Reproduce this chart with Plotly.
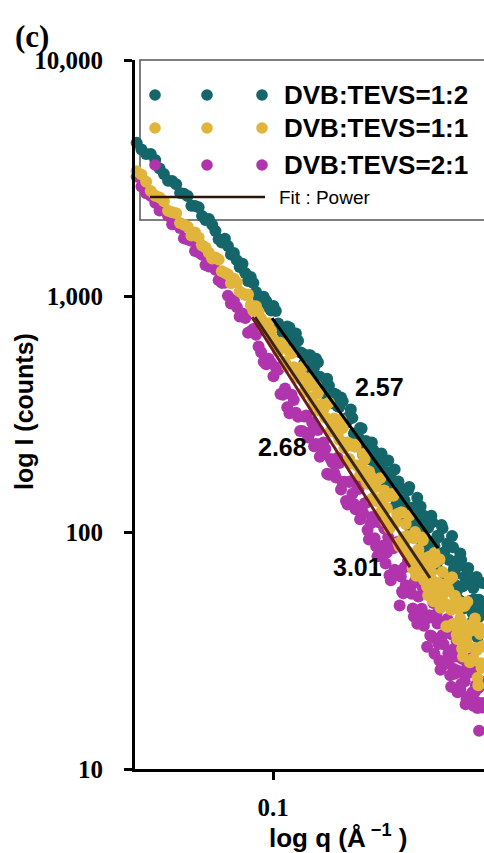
import plotly.graph_objects as go

# ---------------- data ----------------
q = [0.049, 0.0515, 0.054, 0.0565, 0.059, 0.0615, 0.064, 0.0665, 0.069, 0.0715,
     0.074, 0.0765, 0.079, 0.0815, 0.084, 0.0865, 0.089, 0.0915, 0.094, 0.0965,
     0.099, 0.1015, 0.104, 0.1065, 0.109, 0.1115, 0.114, 0.1165, 0.119, 0.1215,
     0.124, 0.1265, 0.129, 0.1315, 0.134, 0.1365, 0.139, 0.1415, 0.144, 0.1465,
     0.149, 0.1515, 0.154, 0.1565, 0.159, 0.1615, 0.164, 0.1665, 0.169, 0.1715,
     0.174, 0.1765, 0.179, 0.1815, 0.184, 0.1865, 0.189, 0.1915, 0.194, 0.1965,
     0.199, 0.2015, 0.204, 0.2065, 0.209, 0.2115, 0.214, 0.2165, 0.219, 0.2215,
     0.224, 0.2265, 0.229, 0.2315, 0.234, 0.2365, 0.239, 0.2415, 0.244, 0.2465,
     0.249, 0.2515, 0.254, 0.2565, 0.259, 0.2615, 0.264, 0.2665, 0.269, 0.2715,
     0.274, 0.2765, 0.279, 0.2815, 0.284, 0.2865, 0.289, 0.2915, 0.294, 0.2965,
     0.299]

q_b = [0.05025, 0.05275, 0.05525, 0.05775, 0.06025, 0.06275, 0.06525, 0.06775,
       0.07025, 0.07275, 0.07525, 0.07775, 0.08025, 0.08275, 0.08525, 0.08775,
       0.09025, 0.09275, 0.09525, 0.09775, 0.10025, 0.10275, 0.10525, 0.10775,
       0.11025, 0.11275, 0.11525, 0.11775, 0.12025, 0.12275, 0.12525, 0.12775,
       0.13025, 0.13275, 0.13525, 0.13775, 0.14025, 0.14275, 0.14525, 0.14775,
       0.15025, 0.15275, 0.15525, 0.15775, 0.16025, 0.16275, 0.16525, 0.16775,
       0.17025, 0.17275, 0.17525, 0.17775, 0.18025, 0.18275, 0.18525, 0.18775,
       0.19025, 0.19275, 0.19525, 0.19775]

q_c = [0.20025, 0.20275, 0.20525, 0.20775, 0.21025, 0.21275, 0.21525, 0.21775,
       0.22025, 0.22275, 0.22525, 0.22775, 0.23025, 0.23275, 0.23525, 0.23775,
       0.24025, 0.24275, 0.24525, 0.24775, 0.25025, 0.25275, 0.25525, 0.25775,
       0.26025, 0.26275, 0.26525, 0.26775, 0.27025, 0.27275, 0.27525, 0.27775,
       0.28025, 0.28275, 0.28525, 0.28775, 0.29025, 0.29275, 0.29525, 0.29775]

I_12 = [4460, 4000, 3776, 3295, 3078, 2738, 2659, 2413, 2188, 2125,
        1891, 1690, 1634, 1526, 1332, 1256, 1208, 1043, 950, 956,
        871, 867, 729, 716, 739, 609, 648, 574, 511, 563,
        501, 526, 435, 386, 419, 364, 384, 340, 360, 291,
        303, 306, 247, 252, 276, 226, 232, 204, 224, 182,
        196, 216, 171, 149, 180, 160, 185, 138, 118, 153,
        137, 116, 156, 118, 103, 122, 105.5, 129, 85.7, 104.6,
        113.7, 90.3, 118, 91.7, 77.2, 97, 77.0, 107.7, 79.1, 63.0,
        89.9, 76.6, 64.6, 86.7, 66.9, 56.4, 72.3, 81.6, 59.2, 47.9,
        61.8, 69.0, 50.6, 62.3, 45.7, 52.3, 63.2, 36.1, 52.0, 45.1, 61.2]
I_12_b = [4183, 4004, 3475, 3087, 2983, 2714, 2419, 2382, 2103, 2007,
          1745, 1751, 1503, 1423, 1374, 1162, 1138, 975, 996, 899,
          911, 767, 688, 745, 660, 696, 580, 521, 563, 484,
          544, 457, 412, 448, 353, 387, 343, 373, 295, 307,
          332, 263, 261, 277, 214, 244, 206, 241, 198, 174,
          210, 185, 161.6, 202, 155.5, 166.3, 130.3, 164.7, 137, 114.7]
I_12_c = [127.1, 151.0, 104.1, 127.8, 107.7, 140.4, 110.5, 87.7, 118.0, 91.8,
          104.8, 84.1, 110.8, 87.8, 71.9, 95.7, 78.3, 104.3, 82.9, 66.0,
          88.8, 66.6, 96.9, 70.4, 59.9, 76.2, 51.8, 76.6, 59.5, 65.1,
          49.2, 70.8, 51.4, 41.6, 58.3, 49.2, 65.0, 43.7, 49.5, 38.1]

I_11 = [3383, 3051, 2664, 2526, 2271, 2042, 1972, 1864, 1642, 1530,
        1459, 1278, 1236, 1188, 1047, 1014, 919, 907, 803, 732,
        715, 618, 636, 528, 586, 501, 451, 502, 414, 420,
        348, 389, 349, 307, 355, 286, 292, 247, 277, 238,
        205, 233, 231, 190, 190, 204, 161, 174, 140, 156,
        138.5, 123, 150.8, 126.6, 104.3, 145.8, 109.4, 119.8, 87.4, 121.8,
        91.9, 96.8, 118.0, 77.6, 94.7, 65.7, 84.9, 70.9, 92.8, 70.5,
        59.0, 79.0, 68.2, 51.3, 74.9, 57.0, 77.1, 51.7, 55.2, 60.2,
        40.0, 63.2, 47.2, 41.1, 54.1, 37.0, 47.7, 43.3, 32.3, 48.9,
        36.5, 51.0, 32.9, 38.5, 29.1, 39.1, 32.5, 24.3, 39.7, 28.0, 33.1]
I_11_b = [3273, 2794, 2618, 2300, 2249, 2007, 1810, 1776, 1608, 1445,
          1433, 1257, 1137, 1148, 1030, 1019, 868, 858, 737, 770,
          658, 586, 623, 506, 574, 477, 478, 394, 449, 374,
          419, 328, 334, 350, 269, 304, 261, 300.5, 228, 241,
          196, 236, 192.5, 175, 215, 165.7, 181.6, 138.9, 162, 135.7,
          169.8, 131.5, 111.6, 142.5, 109.7, 143.2, 111.7, 90.5, 121.8, 95.6]
I_11_c = [108.7, 82.8, 96.2, 70.5, 100.6, 76.1, 79.4, 95.3, 63.1, 77.9,
          54.3, 77.7, 62.6, 82.1, 55.1, 61.3, 48.1, 68.2, 50.3, 40.2,
          57.5, 49.3, 64.7, 40.5, 47.9, 35.4, 50.9, 39.5, 29.9, 49.1,
          35.0, 40.6, 28.3, 40.7, 29.3, 43.3, 31.8, 22.6, 37.3, 26.8]

I_21 = [3216, 2727, 2489, 2336, 2017, 1945, 1741, 1556, 1501, 1337,
        1297, 1140, 1005, 963, 821, 809, 711, 687, 580, 516,
        523, 501, 386, 407, 320, 364, 309, 269, 313, 266,
        232, 272, 214, 226, 176, 198, 171, 197, 163.6, 136,
        164, 146, 125.5, 153, 121.6, 132.9, 102.6, 109.2, 110.9, 87.5,
        110.7, 79.3, 104.1, 82.5, 66.0, 88.4, 69.6, 91.4, 49.2, 56.4,
        71.4, 56.1, 79.1, 55.2, 44.2, 63.2, 53.7, 43.3, 58.7, 44.3,
        32.9, 44.7, 36.5, 50.4, 35.7, 41.3, 28.8, 41.8, 33.7, 27.8,
        43.1, 29.0, 22.3, 32.0, 25.3, 34.7, 26.0, 21.7, 29.3, 25.3,
        18.8, 27.7, 19.9, 29.4, 21.1, 19.0, 22.6, 18.1, 14.5, 23.5, 19.0]
I_21_b = [2917, 2661, 2307, 2190, 2048, 1761, 1720, 1536, 1356, 1357,
          1171, 1141, 932, 902, 847, 702, 727, 613, 529, 545,
          459, 489, 383, 339, 383, 322, 269, 310, 253, 293,
          237, 209.6, 241, 177.6, 205, 179, 207.7, 152.2, 164.4, 131.6,
          165.1, 132.2, 159.5, 114, 121.1, 133.7, 93.6, 116.6, 94.8, 79.4,
          111.7, 88.1, 74.1, 95.6, 62.9, 85.9, 66.9, 89.8, 65.3, 55.4]
I_21_c = [59.9, 75.9, 59.1, 47.8, 62.4, 41.2, 61.1, 47.7, 40.4, 58.6,
          43.5, 36.7, 44.1, 30.7, 45.3, 33.8, 26.3, 36.9, 28.4, 37.7,
          30.8, 24.9, 37.1, 26.5, 29.9, 21.1, 30.6, 22.9, 32.4, 23.5,
          19.8, 25.5, 20.4, 26.2, 18.5, 21.2, 19.2, 22.0, 18.7, 18.2]

# power-law fit segments (end points)
fit_257_q = [0.0995, 0.2371]
fit_257_I = [809, 86.1]
fit_268_q = [0.0910, 0.2274]
fit_268_I = [817, 64.3]
fit_301_q = [0.0896, 0.2048]
fit_301_I = [817, 71.5]

series_names = ["DVB:TEVS=1:2", "DVB:TEVS=1:1", "DVB:TEVS=2:1"]
fit_labels = ["2.57", "2.68", "3.01"]
y_tickvals = [10, 100, 1000, 10000]
y_ticktext = ["10", "100", "1,000", "10,000"]
x_tickvals = [0.1]
x_ticktext = ["0.1"]

# ---------------- styling ----------------
C_TEAL = "#14666a"
C_GOLD = "#e1b43c"
C_MAG = "#b035ad"
SANS = "Liberation Sans, Arial, sans-serif"
SERIF = "Liberation Serif, Times New Roman, serif"

W, H = 484, 853
ML, MR, MT, MB = 135, 0, 60, 84
PW, PH = W - ML - MR, H - MT - MB


def px(xp):
    return (xp - ML) / PW


def py(yp):
    return (H - MB - yp) / PH


q_all = q + q_b + q_c

fig = go.Figure()

mk = dict(size=12, line=dict(width=0))
fig.add_trace(go.Scatter(x=q_all, y=I_21 + I_21_b + I_21_c, mode="markers",
                         name=series_names[2],
                         marker=dict(color=C_MAG, **mk), cliponaxis=False))
fig.add_trace(go.Scatter(x=q_all, y=I_12 + I_12_b + I_12_c, mode="markers",
                         name=series_names[0],
                         marker=dict(color=C_TEAL, **mk), cliponaxis=False))
fig.add_trace(go.Scatter(x=q_all, y=I_11 + I_11_b + I_11_c, mode="markers",
                         name=series_names[1],
                         marker=dict(color=C_GOLD, **mk), cliponaxis=False))

fig.add_trace(go.Scatter(x=fit_257_q, y=fit_257_I, mode="lines",
                         line=dict(color="#000000", width=3)))
fig.add_trace(go.Scatter(x=fit_268_q, y=fit_268_I, mode="lines",
                         line=dict(color="#3b2412", width=3)))
fig.add_trace(go.Scatter(x=fit_301_q, y=fit_301_I, mode="lines",
                         line=dict(color="#6b1d1d", width=3)))

shapes = []
# legend box
shapes.append(dict(type="rect", xref="paper", yref="paper",
                   x0=px(140), x1=1.02, y0=py(220), y1=py(60),
                   line=dict(color="#555555", width=1.5), layer="below"))
row_y = [95, 128, 165]
cols = [C_TEAL, C_GOLD, C_MAG]
for ry, c in zip(row_y, cols):
    for cx in [155, 207, 262]:
        shapes.append(dict(type="circle", xref="paper", yref="paper",
                           xsizemode="pixel", ysizemode="pixel",
                           xanchor=px(cx), yanchor=py(ry),
                           x0=-5.8, x1=5.8, y0=-5.8, y1=5.8,
                           fillcolor=c, line=dict(width=0), layer="above"))
shapes.append(dict(type="line", xref="paper", yref="paper",
                   x0=px(150), x1=px(265), y0=py(197), y1=py(197),
                   line=dict(color="#2a1608", width=2.5), layer="above"))

ann = []
for ry, name in zip(row_y, series_names):
    ann.append(dict(x=px(282), y=py(ry), xref="paper", yref="paper",
                    text=name, showarrow=False, xanchor="left", yanchor="middle",
                    font=dict(family=SANS, size=26, color="black", weight="bold")))
ann.append(dict(x=px(277), y=py(197), xref="paper", yref="paper",
                text="Fit : Power", showarrow=False, xanchor="left", yanchor="middle",
                font=dict(family=SANS, size=19, color="black")))
for (lx, ly), t in zip([(379, 387), (282, 447), (357, 567)], fit_labels):
    ann.append(dict(x=px(lx), y=py(ly), xref="paper", yref="paper", text=t,
                    showarrow=False, xanchor="center", yanchor="middle",
                    font=dict(family=SANS, size=25, color="black", weight="bold")))
ann.append(dict(x=px(13), y=py(36), xref="paper", yref="paper", text="(c)",
                showarrow=False, xanchor="left", yanchor="middle",
                font=dict(family=SERIF, size=31, color="black", weight="bold")))
ann.append(dict(x=px(24), y=py(412), xref="paper", yref="paper",
                text="log I (counts)", textangle=-90, showarrow=False,
                xanchor="center", yanchor="middle",
                font=dict(family=SANS, size=25, color="black", weight="bold")))
ann.append(dict(x=px(338), y=py(836), xref="paper", yref="paper",
                text="log q (Å<sup> −1</sup> )", showarrow=False,
                xanchor="center", yanchor="middle",
                font=dict(family=SANS, size=26, color="black", weight="bold")))

fig.update_layout(
    width=W, height=H,
    margin=dict(l=ML, r=MR, t=MT, b=MB, pad=0),
    paper_bgcolor="white", plot_bgcolor="white",
    showlegend=False,
    shapes=shapes, annotations=ann,
    xaxis=dict(type="log", range=[-1.3136, -0.5205],
               tickvals=x_tickvals, ticktext=x_ticktext,
               ticks="outside", ticklen=8, tickwidth=2.5, tickcolor="black",
               showline=True, linewidth=3, linecolor="black",
               showgrid=False, zeroline=False, ticklabelstandoff=6,
               tickfont=dict(family=SERIF, size=25, color="black", weight="bold")),
    yaxis=dict(type="log", range=[1, 4],
               tickvals=y_tickvals, ticktext=y_ticktext,
               ticks="outside", ticklen=8, tickwidth=2.5, tickcolor="black",
               showline=True, linewidth=3, linecolor="black",
               showgrid=False, zeroline=False, ticklabelstandoff=16,
               tickfont=dict(family=SERIF, size=25, color="black", weight="bold")),
)

fig.write_html("out.html")
